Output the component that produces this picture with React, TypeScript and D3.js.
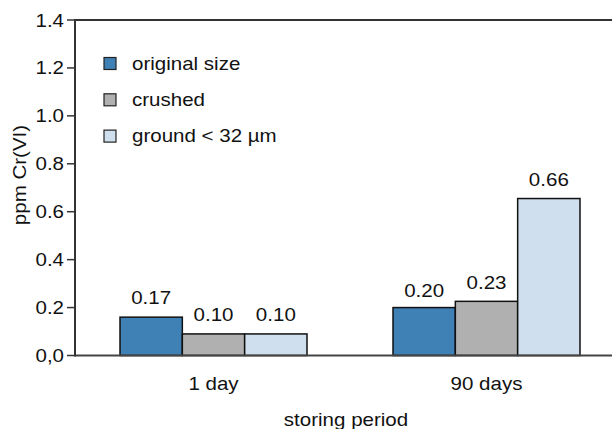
import React from "react";
import * as d3 from "d3";

const categories = ["1 day", "90 days"];
const seriesNames = ["original size", "crushed", "ground < 32 µm"];
const seriesColors = ["#3f80b5", "#b0b0b0", "#cfdfee"];
// bar heights, per series, per category
const originalSize = [0.16, 0.2];
const crushed = [0.09, 0.226];
const ground = [0.09, 0.655];
const originalLabels = ["0.17", "0.20"];
const crushedLabels = ["0.10", "0.23"];
const groundLabels = ["0.10", "0.66"];
const yTicks = [0, 0.2, 0.4, 0.6, 0.8, 1.0, 1.2, 1.4];
const yTickLabels = ["0,0", "0.2", "0.4", "0.6", "0.8", "1.0", "1.2", "1.4"];

const W = 612;
const H = 429;
const FONT = "'Liberation Sans', Arial, sans-serif";
const FS = 18;
const SX = 1.14;

export default function App() {
  const series = [originalSize, crushed, ground];
  const labels = [originalLabels, crushedLabels, groundLabels];
  const y = d3.scaleLinear().domain([0, 1.4]).range([355.5, 20]);
  const x0 = d3.scaleBand().domain(categories).range([77, 623]).padding(0);
  const x1 = d3
    .scaleBand()
    .domain(seriesNames)
    .range([0, x0.bandwidth()])
    .paddingInner(0)
    .paddingOuter(0.69);

  const T = (props: { x: number; y: number; anchor?: string; children: React.ReactNode }) => (
    <text
      transform={`translate(${props.x},${props.y}) scale(${SX},1)`}
      textAnchor={props.anchor || "middle"}
      fontFamily={FONT}
      fontSize={FS}
      fill="#111"
    >
      {props.children}
    </text>
  );

  return (
    <svg
      width={W}
      height={H}
      style={{ position: "absolute", left: 0, top: 0, background: "#fff" }}
    >
      <line x1={75} x2={W} y1={y(1.4)} y2={y(1.4)} stroke="#333" strokeWidth={2} />
      {categories.map((c, ci) =>
        series.map((s, si) => (
          <rect
            key={`${c}-${si}`}
            x={x0(c)! + x1(seriesNames[si])!}
            y={y(s[ci])}
            width={x1.bandwidth()}
            height={y(0) - y(s[ci])}
            fill={seriesColors[si]}
            stroke="#111"
            strokeWidth={1.5}
          />
        ))
      )}
      {categories.map((c, ci) =>
        labels.map((l, si) => (
          <T
            key={`l-${c}-${si}`}
            x={x0(c)! + x1(seriesNames[si])! + x1.bandwidth() / 2}
            y={y(parseFloat(l[ci])) - 11}
          >
            {l[ci]}
          </T>
        ))
      )}
      <line x1={75} x2={W} y1={y(0)} y2={y(0)} stroke="#444" strokeWidth={2} />
      <line x1={75} x2={75} y1={y(1.4) - 1} y2={y(0) + 1} stroke="#333" strokeWidth={2} />
      {yTicks.map((t, i) => (
        <g key={`t-${i}`}>
          <line x1={67} x2={75} y1={y(t)} y2={y(t)} stroke="#333" strokeWidth={1.5} />
          <T x={64} y={y(t) + 6.5} anchor="end">
            {yTickLabels[i]}
          </T>
        </g>
      ))}
      {categories.map((c) => (
        <T key={`c-${c}`} x={x0(c)! + x0.bandwidth() / 2} y={390}>
          {c}
        </T>
      ))}
      <T x={346} y={426}>storing period</T>
      <text
        transform={`translate(26,175) rotate(-90) scale(${SX},1)`}
        textAnchor="middle"
        fontFamily={FONT}
        fontSize={FS}
        fill="#111"
      >
        ppm Cr(VI)
      </text>
      {seriesNames.map((n, i) => (
        <g key={`lg-${i}`}>
          <rect
            x={104}
            y={57.5 + i * 36.3}
            width={12}
            height={12}
            fill={seriesColors[i]}
            stroke="#222"
            strokeWidth={1.2}
          />
          <T x={132} y={69.5 + i * 36.3} anchor="start">
            {n}
          </T>
        </g>
      ))}
    </svg>
  );
}
